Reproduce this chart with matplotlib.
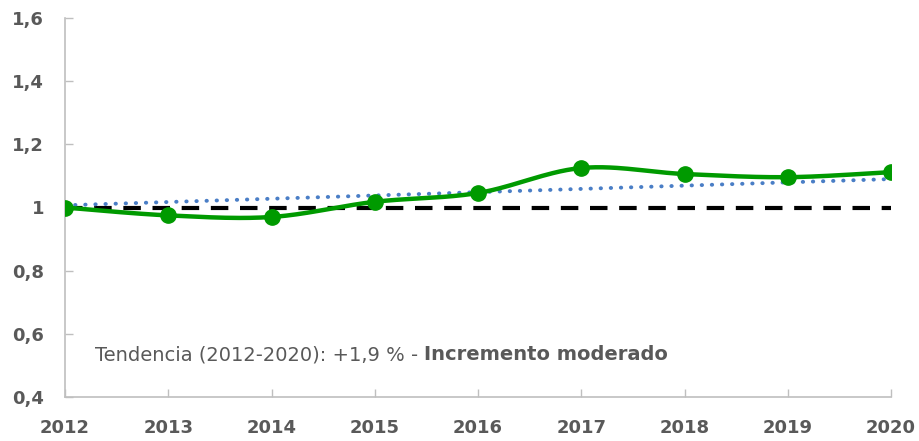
import numpy as np
import matplotlib.pyplot as plt

years = [2012, 2013, 2014, 2015, 2016, 2017, 2018, 2019, 2020]
index = [1.0, 0.975, 0.97, 1.018, 1.046, 1.125, 1.106, 1.096, 1.112]
trend_ends = [1.007, 1.09]  # trend line value in 2012 and 2020
baseline = 1.0
yticks = [0.4, 0.6, 0.8, 1.0, 1.2, 1.4, 1.6]
ytick_labels = ['0,4', '0,6', '0,8', '1', '1,2', '1,4', '1,6']
note = 'Tendencia (2012-2020): +1,9 % - '
note_bold = 'Incremento moderado'

green = '#009A00'
blue = '#4A7EC6'
grey_txt = '#595959'
axis_col = '#BFBFBF'


def smooth(x, y, n=30):
    # Catmull-Rom style smoothing, like a spreadsheet "smoothed line"
    x = np.asarray(x, float)
    y = np.asarray(y, float)
    px = np.concatenate([[x[0]], x, [x[-1]]])
    py = np.concatenate([[y[0]], y, [y[-1]]])
    xs, ys = [], []
    t = np.linspace(0, 1, n)
    for i in range(1, len(px) - 2):
        p0 = np.array([px[i], py[i]])
        p3 = np.array([px[i + 1], py[i + 1]])
        c1 = p0 + (np.array([px[i + 1], py[i + 1]]) - np.array([px[i - 1], py[i - 1]])) / 6
        c2 = p3 - (np.array([px[i + 2], py[i + 2]]) - np.array([px[i], py[i]])) / 6
        b = ((1 - t) ** 3)[:, None] * p0 + (3 * (1 - t) ** 2 * t)[:, None] * c1 \
            + (3 * (1 - t) * t ** 2)[:, None] * c2 + (t ** 3)[:, None] * p3
        xs.extend(b[:, 0])
        ys.extend(b[:, 1])
    return np.array(xs), np.array(ys)


fig = plt.figure(figsize=(9.2, 4.41), dpi=100)
ax = fig.add_axes([65 / 920, 44 / 441, 826 / 920, 379 / 441])

ax.plot([years[0], years[-1]], [baseline, baseline], color='black', lw=3,
        dashes=(4.2, 2.8), zorder=2)
ax.plot([years[0], years[-1]], trend_ends, color=blue, lw=2.8,
        linestyle=(0, (0.1, 2.5)), dash_capstyle='round', zorder=3)
sx, sy = smooth(years, index)
ax.plot(sx, sy, color=green, lw=3.2, zorder=4)
ax.plot(years, index, 'o', color=green, ms=11, zorder=5)

ax.set_xlim(years[0], years[-1])
ax.set_ylim(0.4, 1.6)
ax.set_xticks(years)
ax.set_yticks(yticks)
ax.set_yticklabels(ytick_labels)

for s in ['top', 'right']:
    ax.spines[s].set_visible(False)
for s in ['left', 'bottom']:
    ax.spines[s].set_color(axis_col)
    ax.spines[s].set_linewidth(1.2)
ax.tick_params(direction='in', length=6, width=1, color=axis_col,
               labelcolor=grey_txt, labelsize=13)
ax.tick_params(axis='x', pad=16)
ax.tick_params(axis='y', pad=15)
for lbl in ax.get_xticklabels() + ax.get_yticklabels():
    lbl.set_fontweight('bold')

ty = (441 - 355) / 441
t1 = fig.text(95 / 920, ty, note, fontsize=14, color=grey_txt,
              va='center', ha='left')
fig.canvas.draw()
bb = t1.get_window_extent()
fig.text(bb.x1 / 920, ty, note_bold, fontsize=14, color=grey_txt,
         va='center', ha='left', fontweight='bold')

fig.savefig('out.png', dpi=100)
